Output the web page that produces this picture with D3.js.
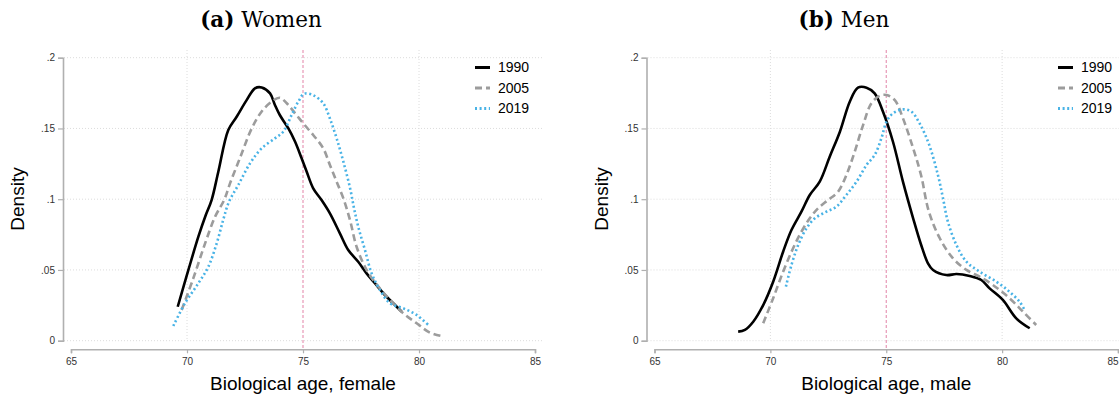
<!DOCTYPE html>
<html lang="en">
<head>
<meta charset="UTF-8">
<title>biological age density</title>
<script src="https://cdn.jsdelivr.net/npm/d3@7"></script>
<style>
    body{ margin:0; background:#fff; }
    svg{ display:block; }
    .tick text{ font-family:"Liberation Sans", Arial, sans-serif; }
</style>
</head>
<body>
<svg id="fig" width="1119" height="398"></svg>
<script>
    // x ticks / y ticks
    let xTicks = [65, 70, 75, 80, 85]
    let yTicks = [0, 0.05, 0.1, 0.15, 0.2]
    let yTickLabels = ["0", ".05", ".1", ".15", ".2"]
    let years = ["1990", "2005", "2019"]

    // women: [age, density]
    let women1990 = [[69.6,0.024],[70.06,0.050],[70.49,0.0735],[70.81,0.0888],[71.06,0.0994],[71.35,0.1194],[71.78,0.1489],[72.14,0.1583],[72.57,0.170],[72.93,0.1784],[73.22,0.179],[73.58,0.1748],[73.79,0.1666],[74.0,0.1595],[74.37,0.150],[74.66,0.1406],[74.94,0.1289],[75.16,0.1194],[75.44,0.1077],[75.8,0.0994],[76.16,0.090],[76.59,0.0759],[76.95,0.0641],[77.38,0.0558],[77.74,0.0476],[78.1,0.0406],[78.53,0.0323],[79.04,0.024],[79.25,0.0205]]
    let women2005 = [[69.77,0.0217],[70.27,0.044],[70.78,0.0688],[71.21,0.0876],[71.6,0.0994],[71.85,0.111],[72.28,0.129],[72.79,0.150],[73.22,0.162],[73.65,0.169],[74.0,0.1717],[74.3,0.1678],[74.66,0.1607],[75.01,0.1536],[75.44,0.1454],[75.87,0.136],[76.16,0.1242],[76.45,0.1124],[76.74,0.1006],[77.03,0.085],[77.31,0.0664],[77.74,0.050],[78.25,0.0382],[78.75,0.0288],[79.32,0.0194],[79.9,0.0123],[80.47,0.0057],[80.98,0.0033]]
    let women2019 = [[69.41,0.0104],[69.91,0.0264],[70.49,0.0406],[70.92,0.0523],[71.28,0.0688],[71.56,0.0853],[71.81,0.0982],[72.21,0.110],[72.72,0.1254],[73.22,0.136],[73.79,0.143],[74.15,0.1477],[74.51,0.1595],[74.8,0.169],[75.05,0.1745],[75.44,0.1735],[75.87,0.1678],[76.16,0.157],[76.45,0.143],[76.74,0.1265],[77.03,0.1077],[77.2,0.0936],[77.38,0.0806],[77.67,0.0641],[77.96,0.0476],[78.32,0.0358],[78.75,0.0264],[79.32,0.0229],[79.9,0.0182],[80.4,0.0111]]

    // men
    let men1990 = [[68.61,0.0064],[68.9,0.0076],[69.26,0.0134],[69.69,0.0252],[70.12,0.0417],[70.55,0.0629],[70.91,0.0782],[71.34,0.0912],[71.7,0.103],[72.13,0.1124],[72.56,0.130],[73.0,0.1477],[73.43,0.169],[73.78,0.1788],[74.15,0.1788],[74.5,0.1748],[74.86,0.1618],[75.29,0.1406],[75.72,0.1124],[76.16,0.0865],[76.5,0.068],[76.8,0.0547],[77.02,0.050],[77.59,0.0464],[78.03,0.0471],[78.6,0.0457],[79.1,0.0429],[79.46,0.037],[80.03,0.0288],[80.61,0.0158],[81.19,0.0088]]
    let men2005 = [[69.69,0.0123],[70.12,0.030],[70.55,0.0488],[70.98,0.0653],[71.34,0.077],[71.7,0.0865],[72.06,0.0936],[72.49,0.0994],[72.92,0.1053],[73.28,0.1171],[73.64,0.1336],[74.0,0.1524],[74.36,0.1678],[74.72,0.1731],[75.01,0.1736],[75.37,0.170],[75.72,0.1572],[76.16,0.136],[76.5,0.1171],[76.84,0.0912],[77.31,0.0724],[77.88,0.0582],[78.46,0.050],[79.03,0.0452],[79.6,0.0394],[80.32,0.030],[80.9,0.0205],[81.47,0.0111]]
    let men2019 = [[70.67,0.0382],[70.91,0.0535],[71.2,0.0676],[71.56,0.0794],[71.92,0.0865],[72.42,0.0912],[72.85,0.0947],[73.28,0.103],[73.72,0.1124],[74.15,0.1242],[74.5,0.1312],[74.79,0.143],[75.01,0.1548],[75.29,0.1607],[75.72,0.1635],[76.09,0.1618],[76.44,0.1536],[76.84,0.139],[77.23,0.1171],[77.45,0.1006],[77.66,0.0841],[78.03,0.0676],[78.46,0.0558],[79.03,0.0488],[79.75,0.0417],[80.32,0.0346],[80.75,0.0276],[80.97,0.0217]]

    let styles = [
        {color:"#000000", dash:null, width:2.6},
        {color:"#9c9c9c", dash:"7,4", width:2.6},
        {color:"#49b3e6", dash:"2,2.6", width:2.6}
    ]

    let svg = d3.select("#fig")
    let fontSans = "'Liberation Sans', Arial, sans-serif"
    let fontSerif = "'DejaVu Serif', 'Liberation Serif', serif"

    function panel(cfg){
        let x = d3.scaleLinear().domain([65, 85]).range([cfg.x0, cfg.x1])
        let y = d3.scaleLinear().domain([0, 0.2]).range([340.7, 57.7])
        let g = svg.append("g")

        // title
        let t = g.append("text")
            .attr("x", cfg.titleX).attr("y", 27)
            .attr("text-anchor", "middle")
            .style("font-family", fontSerif).style("font-size", "21.5px")
        t.append("tspan").attr("font-weight", "bold").text(cfg.letter)
        t.append("tspan").text(" " + cfg.title)

        // grid
        g.selectAll(".hgrid").data(yTicks).join("line")
            .attr("x1", cfg.x0 - 7).attr("x2", cfg.x1 + 7)
            .attr("y1", d => y(d)).attr("y2", d => y(d))
            .attr("stroke", "#dcdcdc").attr("stroke-width", 1)
            .attr("stroke-dasharray", "1,2")
        g.selectAll(".vgrid").data([70, 80]).join("line")
            .attr("x1", d => x(d)).attr("x2", d => x(d))
            .attr("y1", 50).attr("y2", 341)
            .attr("stroke", "#dcdcdc").attr("stroke-width", 1)
            .attr("stroke-dasharray", "1,2")

        // reference line at 75
        g.append("line")
            .attr("x1", x(75)).attr("x2", x(75))
            .attr("y1", 50).attr("y2", 349)
            .attr("stroke", "#e58fb0").attr("stroke-width", 1.1)
            .attr("stroke-dasharray", "3,2")

        // y axis
        let yAxis = d3.axisLeft(y).tickValues(yTicks)
            .tickFormat((d, i) => yTickLabels[i]).tickSize(5).tickPadding(3)
        let ya = g.append("g").attr("transform", `translate(${cfg.x0 - 8},0)`).call(yAxis)
        ya.select(".domain").attr("stroke", "#b0b0b0").attr("stroke-width", 1.6)
        ya.selectAll(".tick line").attr("stroke", "#b0b0b0").attr("stroke-width", 1.2)
        ya.selectAll(".tick text").style("font-size", "10px").attr("fill", "#333")

        // x axis
        let xAxis = d3.axisBottom(x).tickValues(xTicks).tickSize(4).tickPadding(5)
        let xa = g.append("g").attr("transform", "translate(0,349.3)").call(xAxis)
        xa.select(".domain").attr("stroke", "#b0b0b0").attr("stroke-width", 1.6)
        xa.selectAll(".tick line").attr("stroke", "#b0b0b0").attr("stroke-width", 1.2)
        xa.selectAll(".tick text").style("font-size", "10px").attr("fill", "#333")
        // keep the last label inside the picture
        xa.selectAll(".tick text").filter(d => x(d) + 6 > 1119).attr("text-anchor", "end")

        // labels
        g.append("text")
            .attr("transform", `translate(${cfg.x0 - 52},199) rotate(-90)`)
            .attr("text-anchor", "middle").attr("dominant-baseline", "middle")
            .style("font-family", fontSans).style("font-size", "19px")
            .text("Density")
        g.append("text")
            .attr("x", x(75)).attr("y", 390)
            .attr("text-anchor", "middle")
            .style("font-family", fontSans).style("font-size", "19px")
            .text(cfg.xlabel)

        // curves
        let line = d3.line().x(d => x(d[0])).y(d => y(d[1])).curve(d3.curveCatmullRom)
        cfg.series.forEach((s, i) => {
            g.append("path").datum(s)
                .attr("d", line)
                .attr("fill", "none")
                .attr("stroke", styles[i].color)
                .attr("stroke-width", styles[i].width)
                .attr("stroke-dasharray", styles[i].dash)
                .attr("stroke-linejoin", "round")
        })

        // legend
        let lg = g.append("g").attr("transform", `translate(${cfg.x1 - 60},0)`)
        years.forEach((yr, i) => {
            let ly = 67.5 + i * 20.5
            lg.append("line")
                .attr("x1", 0).attr("x2", 15).attr("y1", ly).attr("y2", ly)
                .attr("stroke", styles[i].color).attr("stroke-width", 3)
                .attr("stroke-dasharray", styles[i].dash)
            lg.append("text")
                .attr("x", 23).attr("y", ly).attr("dy", "0.35em")
                .style("font-family", fontSans).style("font-size", "14px")
                .text(yr)
        })
    }

    panel({x0:71, x1:535, titleX:261, letter:"(a)", title:"Women",
        xlabel:"Biological age, female", series:[women1990, women2005, women2019]})
    panel({x0:654.5, x1:1118, titleX:844, letter:"(b)", title:"Men",
        xlabel:"Biological age, male", series:[men1990, men2005, men2019]})
</script>
</body>
</html>
